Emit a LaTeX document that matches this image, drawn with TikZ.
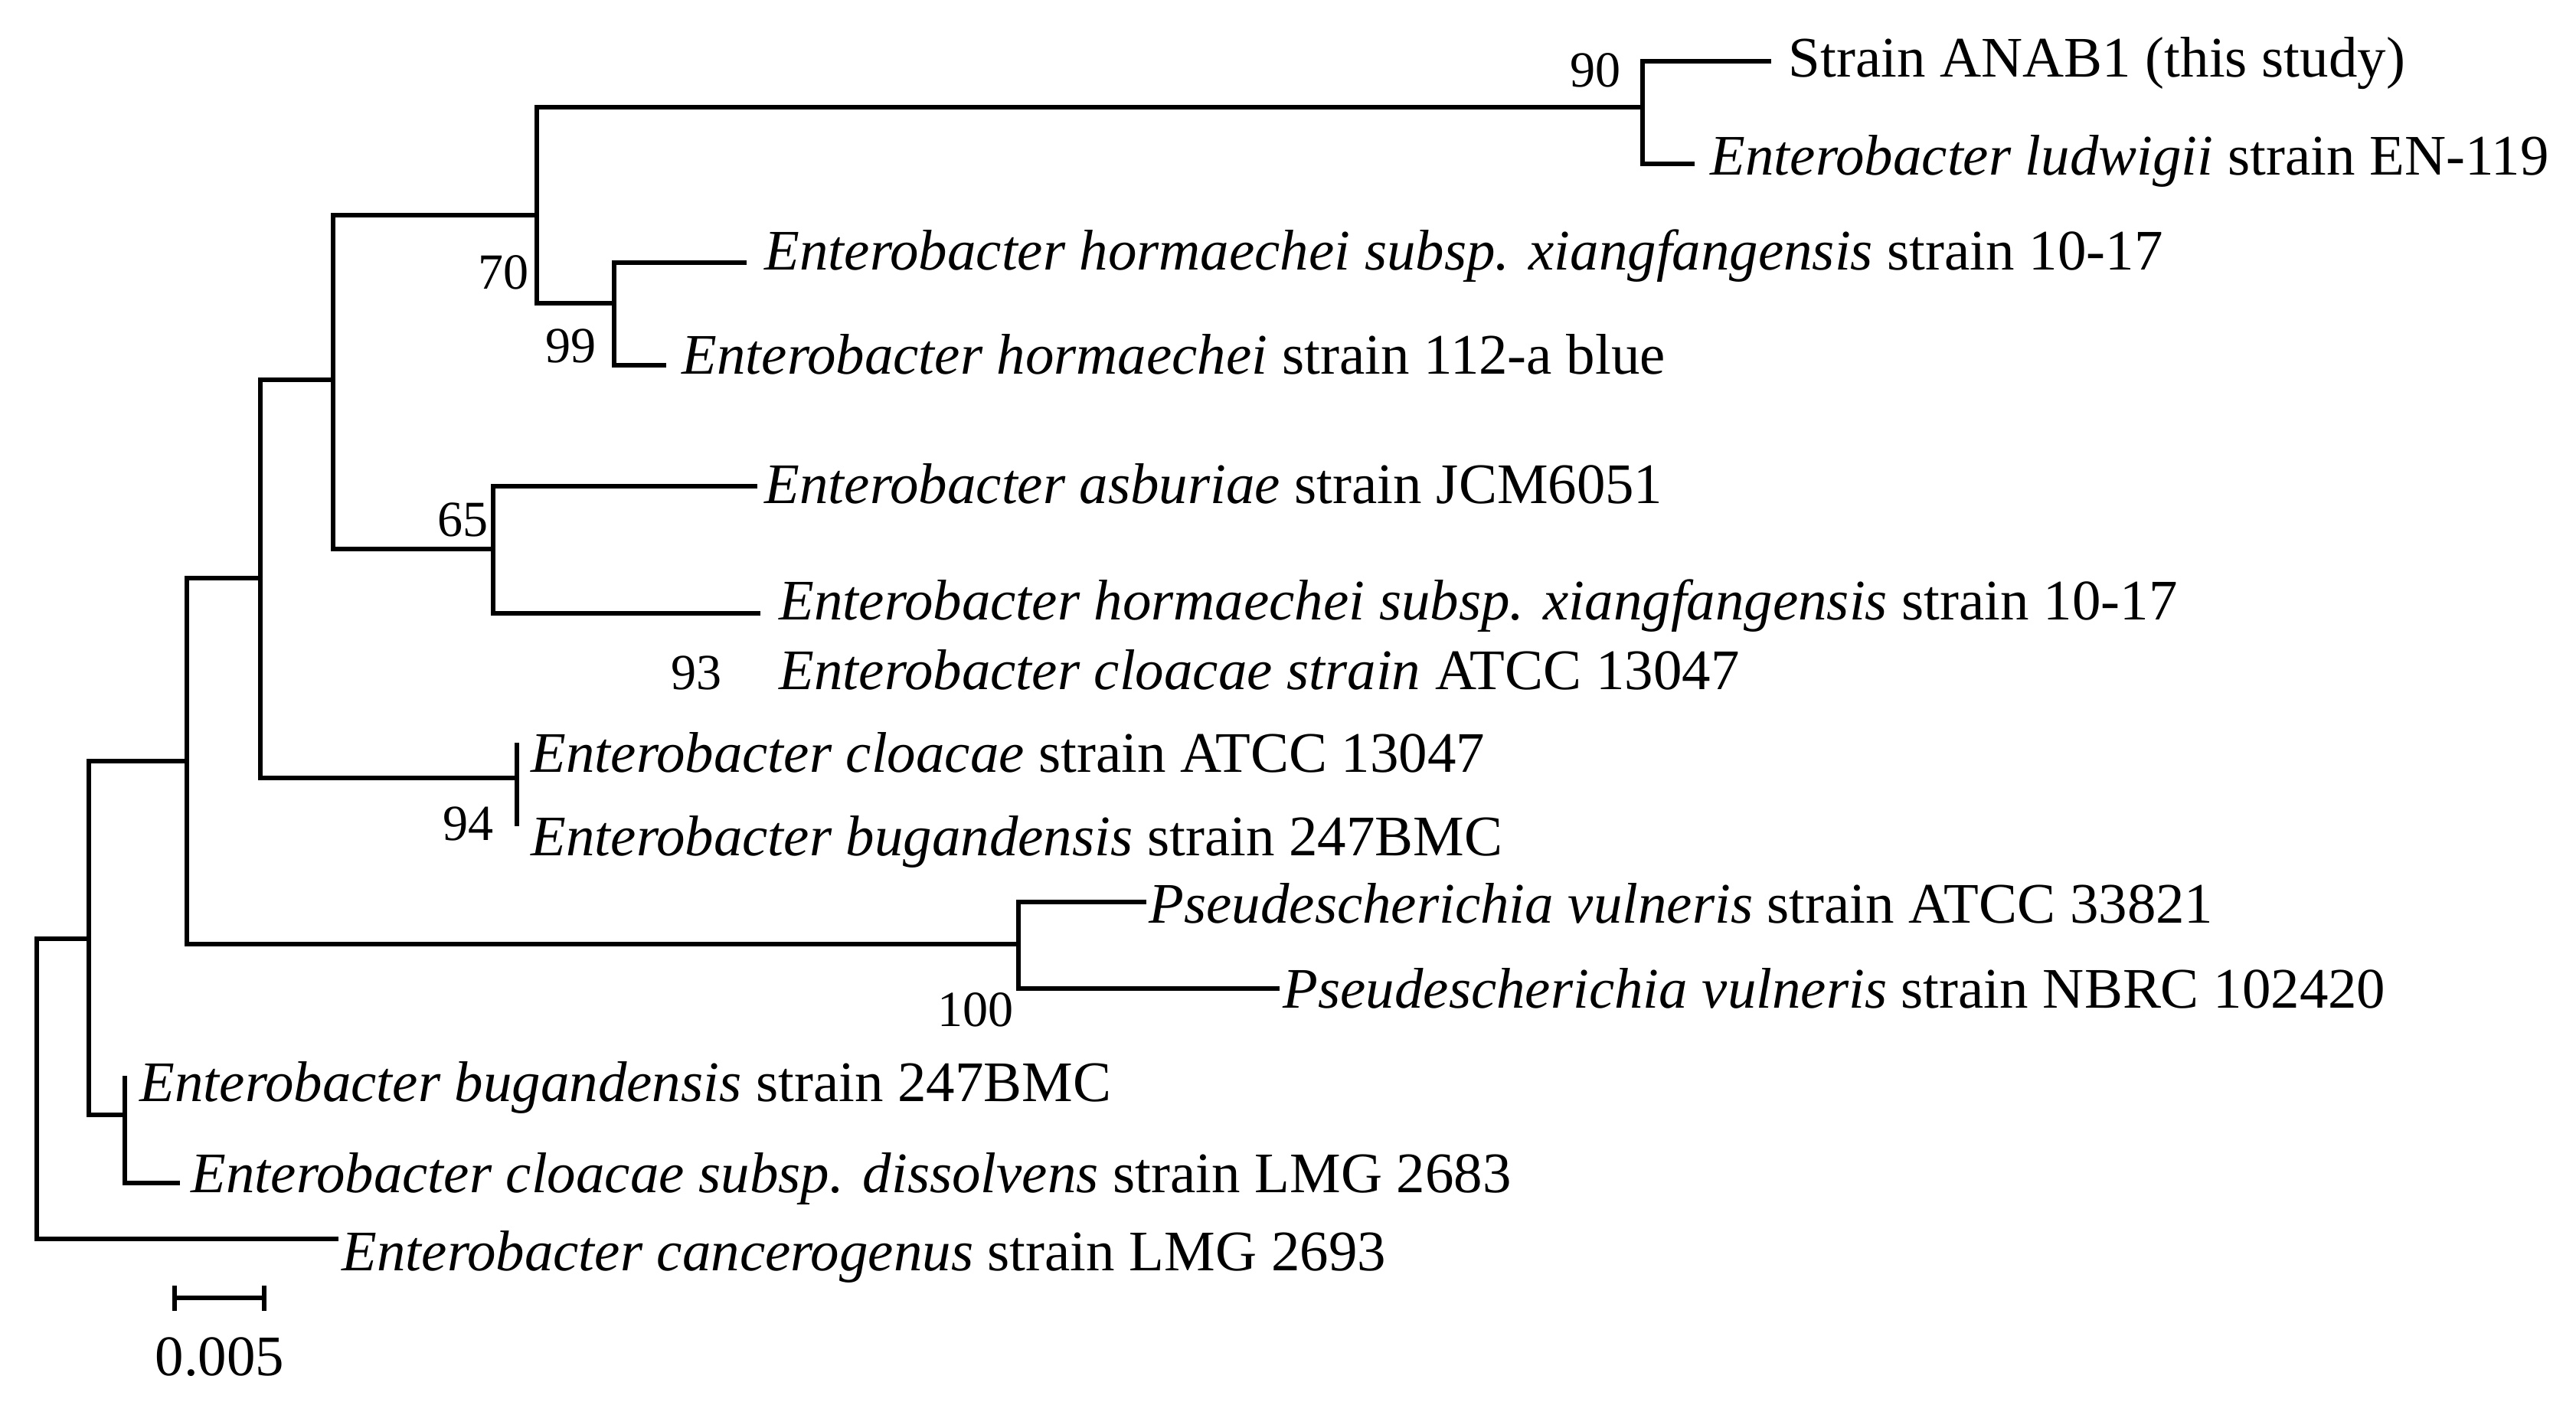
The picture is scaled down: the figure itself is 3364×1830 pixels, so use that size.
\documentclass[tikz,border=0pt]{standalone}
\usepackage{fontspec}
\setmainfont{Liberation Serif}
\begin{document}
\begin{tikzpicture}[x=0.01cm,y=-0.01cm,
  br/.style={line width=0.065cm, line join=miter, line cap=butt},
  leaf/.style={anchor=base west, inner sep=0pt, font=\fontsize{21.3pt}{25pt}\selectfont},
  boot/.style={anchor=base east, inner sep=0pt, font=\fontsize{18.8pt}{22pt}\selectfont}]
\useasboundingbox (0,0) rectangle (3364,1830);
% internal nodes
\coordinate (root) at (48,1226);
\coordinate (n1) at (116,1226);
\coordinate (n2) at (244,994);
\coordinate (n3) at (163,1456);
\coordinate (n4) at (340,755);
\coordinate (n5) at (1330,1233);
\coordinate (n6) at (435,496);
\coordinate (n7) at (675,1016);
\coordinate (n8) at (701,281);
\coordinate (n9) at (644,717);
\coordinate (n10) at (2145,140);
\coordinate (n11) at (802,396);
% leaf tips
\coordinate (tANAB) at (2313,80);
\coordinate (tlud) at (2213,214);
\coordinate (txia1) at (975,343);
\coordinate (thor) at (870,477);
\coordinate (tasb) at (989,635);
\coordinate (txia2) at (993,801);
\coordinate (tclo) at (675,970);
\coordinate (tbug1) at (675,1079);
\coordinate (tpv1) at (1497,1178);
\coordinate (tpv2) at (1671,1291);
\coordinate (tbug2) at (163,1405);
\coordinate (tdis) at (235,1545);
\coordinate (tcan) at (442,1618);
% branches
\draw[br] (n1) -| (root) |- (tcan);
\draw[br] (n2) -| (n1) |- (n3);
\draw[br] (tbug2) -| (n3) |- (tdis);
\draw[br] (n4) -| (n2) |- (n5);
\draw[br] (tpv1) -| (n5) |- (tpv2);
\draw[br] (n6) -| (n4) |- (n7);
\draw[br] (tclo) -| (n7) |- (tbug1);
\draw[br] (n8) -| (n6) |- (n9);
\draw[br] (tasb) -| (n9) |- (txia2);
\draw[br] (n10) -| (n8) |- (n11);
\draw[br] (tANAB) -| (n10) |- (tlud);
\draw[br] (txia1) -| (n11) |- (thor);
% leaf labels
\node[leaf] (lANAB) at (2335,100) {Strain ANAB1 (this study)};
\node[leaf] (llud) at (2233,228) {\textit{Enterobacter ludwigii} strain EN-119};
\node[leaf] (lxia1) at (998,352) {\textit{Enterobacter hormaechei subsp. xiangfangensis} strain 10-17};
\node[leaf] (lhor) at (890,488) {\textit{Enterobacter hormaechei} strain 112-a blue};
\node[leaf] (lasb) at (998,657) {\textit{Enterobacter asburiae} strain JCM6051};
\node[leaf] (lxia2) at (1017,809) {\textit{Enterobacter hormaechei subsp. xiangfangensis} strain 10-17};
\node[leaf] (lclo93) at (1017,900) {\textit{Enterobacter cloacae strain} ATCC 13047};
\node[leaf] (lclo) at (693,1008) {\textit{Enterobacter cloacae} strain ATCC 13047};
\node[leaf] (lbug1) at (693,1117) {\textit{Enterobacter bugandensis} strain 247BMC};
\node[leaf] (lpv1) at (1500,1205) {\textit{Pseudescherichia vulneris} strain ATCC 33821};
\node[leaf] (lpv2) at (1675,1316) {\textit{Pseudescherichia vulneris} strain NBRC 102420};
\node[leaf] (lbug2) at (182,1438) {\textit{Enterobacter bugandensis} strain 247BMC};
\node[leaf] (ldis) at (249,1557) {\textit{Enterobacter cloacae subsp. dissolvens} strain LMG 2683};
\node[leaf] (lcan) at (446,1659) {\textit{Enterobacter cancerogenus} strain LMG 2693};
% bootstrap values
\node[boot] (b90) at (2117,113) {90};
\node[boot] (b70) at (691,377) {70};
\node[boot] (b99) at (779,473) {99};
\node[boot] (b65) at (638,700) {65};
\node[boot] (b93) at (943,900) {93};
\node[boot] (b94) at (645,1097) {94};
\node[boot] (b100) at (1324,1340) {100};
% scale bar
\coordinate (sb1) at (228,1695);
\coordinate (sb2) at (345,1695);
\coordinate (sb1t) at (228,1679);
\coordinate (sb1b) at (228,1712);
\coordinate (sb2t) at (345,1679);
\coordinate (sb2b) at (345,1712);
\draw[br] (sb1) -- (sb2);
\draw[br] (sb1t) -- (sb1b);
\draw[br] (sb2t) -- (sb2b);
\node[anchor=base, inner sep=0pt, font=\fontsize{21.3pt}{25pt}\selectfont] (sbl) at (287,1796) {0.005};
\end{tikzpicture}
\end{document}
